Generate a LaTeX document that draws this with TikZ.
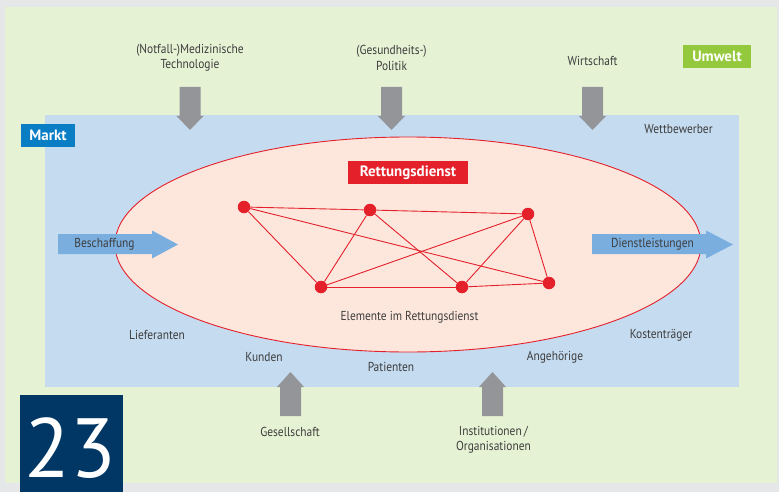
\documentclass[tikz,border=0pt]{standalone}
\usepackage{fontspec}
\setmainfont{PT Sans}[FakeStretch=0.88]
\newfontfamily\tagfont{PT Sans}
\definecolor{outergray}{HTML}{E6E7E9}
\definecolor{umweltbg}{HTML}{E6F2D4}
\definecolor{marktbg}{HTML}{C5DBF0}
\definecolor{ellfill}{HTML}{FDE7DD}
\definecolor{rdred}{HTML}{E4202A}
\definecolor{blarrow}{HTML}{7AAEDF}
\definecolor{grarrow}{HTML}{939598}
\definecolor{navy}{HTML}{003764}
\definecolor{marktblue}{HTML}{0A7EC5}
\definecolor{umweltgreen}{HTML}{95C93D}
\definecolor{txtgray}{HTML}{3D3D3D}
\tikzset{
  lbl/.style={font=\fontsize{13}{15.5}\selectfont, text=txtgray, inner sep=0pt, align=center},
  tag/.style={font=\tagfont\fontsize{15}{17}\selectfont\bfseries, text=white, inner sep=0pt, anchor=center},
  elem/.style={circle, fill=rdred, inner sep=0pt, minimum size=12.5pt},
  link/.style={draw=rdred, line width=0.9pt},
  gdown/.pic={\fill[grarrow] (-10.5,0) -- (10.5,0) -- (10.5,29) -- (13.5,29) -- (0,43) -- (-13.5,29) -- (-10.5,29) -- cycle;},
  gup/.pic={\fill[grarrow] (-10.5,0) -- (10.5,0) -- (10.5,-29) -- (13.5,-29) -- (0,-44) -- (-13.5,-29) -- (-10.5,-29) -- cycle;},
}
\begin{document}
\begin{tikzpicture}[x=1pt,y=-1pt]
\useasboundingbox (0,0) rectangle (779,492);
% backgrounds
\fill[outergray] (0,0) rectangle (779,492);
\fill[umweltbg] (5,7) rectangle (777,483);
\fill[marktbg] (45,115) rectangle (739,387);
% labels of areas
\node[fill=umweltgreen, minimum width=68pt, minimum height=23pt, tag] (umwelt) at (717,56.5) {Umwelt};
\node[fill=marktblue, minimum width=54pt, minimum height=23pt, tag] (markt) at (48,135.5) {Markt};
% ellipse
\draw[rdred, fill=ellfill, line width=0.9pt] (408,244.5) ellipse [x radius=293pt, y radius=107.5pt];
\node[fill=rdred, minimum width=120pt, minimum height=23pt, tag] (rd) at (408,172.5) {Rettungsdienst};
% network
\node[elem] (a) at (244,207) {};
\node[elem] (b) at (370,210) {};
\node[elem] (c) at (528,214) {};
\node[elem] (d) at (321,287) {};
\node[elem] (e) at (462,287) {};
\node[elem] (f) at (549,283) {};
\draw[link] (a) -- (b);
\draw[link] (a) -- (d);
\draw[link] (a) -- (f);
\draw[link] (b) -- (c);
\draw[link] (b) -- (d);
\draw[link] (b) -- (e);
\draw[link] (c) -- (d);
\draw[link] (c) -- (e);
\draw[link] (c) -- (f);
\draw[link] (d) -- (e);
\draw[link] (e) -- (f);
\node[lbl] (elemtxt) at (409.5,317) {Elemente im Rettungsdienst};
% blue arrows
\fill[blarrow] (58,234) -- (152,234) -- (152,230.5) -- (178,244.5) -- (152,258.5) -- (152,254) -- (58,254) -- cycle;
\node[lbl] (besch) at (104.5,244.5) {Beschaffung};
\fill[blarrow] (592,234) -- (706,234) -- (706,230.5) -- (733,244.5) -- (706,258.5) -- (706,254) -- (592,254) -- cycle;
\node[lbl] (dienst) at (652.5,244.5) {Dienstleistungen};
% gray arrows
\pic at (190,87) {gdown};
\pic at (391.5,87) {gdown};
\pic at (592.5,87) {gdown};
\pic at (290.5,416) {gup};
\pic at (492.5,416) {gup};
% outside texts
\node[lbl] (tech) at (190,58) {(Notfall-)Medizinische\\Technologie};
\node[lbl] (pol) at (391.5,58) {(Gesundheits-)\\Politik};
\node[lbl] (wirt) at (592.5,61) {Wirtschaft};
\node[lbl] (ges) at (290,432) {Gesellschaft};
\node[lbl] (inst) at (493.5,439.5) {Institutionen\,/\\Organisationen};
% market texts
\node[lbl] (wett) at (678.5,129) {Wettbewerber};
\node[lbl] (lief) at (157,335) {Lieferanten};
\node[lbl] (kund) at (264,357) {Kunden};
\node[lbl] (pat) at (391,367) {Patienten};
\node[lbl] (ang) at (555,357) {Angehörige};
\node[lbl] (kost) at (661,335) {Kostenträger};
% number box
\fill[navy] (20,395) rectangle (123,492);
\node[font=\tagfont\fontsize{84}{84}\selectfont, text=white, inner sep=0pt, anchor=base] (num) at (70.5,477) {23};
\end{tikzpicture}
\end{document}
